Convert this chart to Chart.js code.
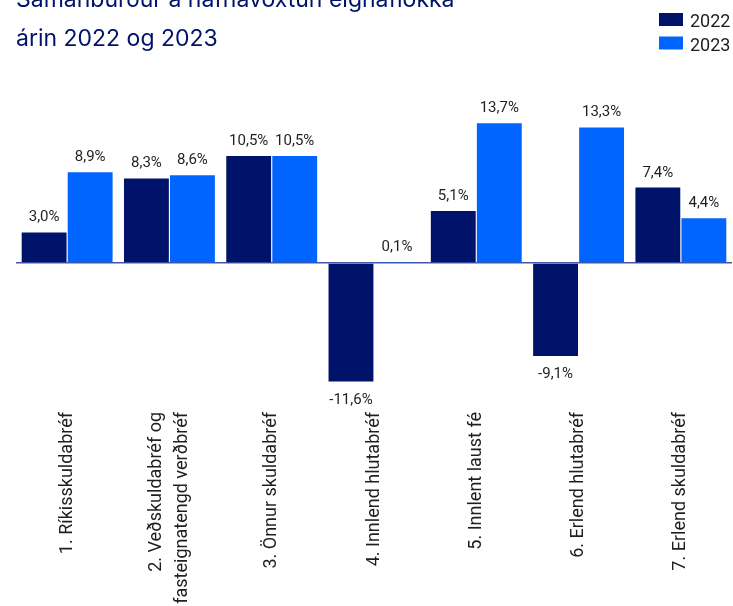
<!DOCTYPE html>
<html lang="is">
<head>
    <meta charset="UTF-8">
    <title>Samanburður á nafnávöxtun eignaflokka</title>
    <script src="https://cdn.jsdelivr.net/npm/chart.js"></script>
    <style>
        body {
            margin: 0;
            background: #fff;
        }
        .frame {
            position: relative;
            width: 733px;
            height: 606px;
            overflow: hidden;
        }
        .wrap {
            position: absolute;
            left: 0;
            top: -30px;
            width: 733px;
            height: 636px;
        }
    </style>
</head>
<body>
    <div class="frame">
        <div class="wrap"><canvas id="returnChart"></canvas></div>
    </div>

    <script>
        const categories = [
            '1. Ríkisskuldabréf',
            ['2. Veðskuldabréf og', 'fasteignatengd verðbréf'],
            '3. Önnur skuldabréf',
            '4. Innlend hlutabréf',
            '5. Innlent laust fé',
            '6. Erlend hlutabréf',
            '7. Erlend skuldabréf'
        ];
        const values2022 = [3.0, 8.3, 10.5, -11.6, 5.1, -9.1, 7.4];
        const values2023 = [8.9, 8.6, 10.5, 0.1, 13.7, 13.3, 4.4];
        const seriesNames = ['2022', '2023'];

        const navy = '#00136b';
        const blue = '#0064ff';

        function fmt(v) {
            return v.toFixed(1).replace('.', ',') + '%';
        }

        // value labels above / below each bar
        const valueLabels = {
            id: 'valueLabels',
            afterDatasetsDraw(chart) {
                const ctx = chart.ctx;
                ctx.save();
                ctx.font = '15px Roboto';
                ctx.fillStyle = '#1f1f1f';
                ctx.textAlign = 'center';
                ctx.textBaseline = 'alphabetic';
                chart.data.datasets.forEach((ds, i) => {
                    chart.getDatasetMeta(i).data.forEach((bar, j) => {
                        const v = ds.data[j];
                        const y = v >= 0 ? bar.y - 11 : bar.y + 22;
                        ctx.fillText(fmt(v), bar.x, y);
                    });
                });
                ctx.restore();
            }
        };

        // rotated labels with two lines: center the block on the tick
        const centerMultiline = {
            id: 'centerMultiline',
            beforeDraw(chart) {
                const scale = chart.scales.x;
                scale.getLabelItems(chart.chartArea).forEach(item => {
                    if (Array.isArray(item.label) && !item._centered) {
                        const lh = item.font.lineHeight;
                        item.options.translation[0] -= lh * (item.label.length - 1) / 2;
                        item._centered = true;
                    }
                });
            }
        };

        // small stacked legend in the top right corner
        const cornerLegend = {
            id: 'cornerLegend',
            afterDraw(chart) {
                const ctx = chart.ctx;
                ctx.save();
                ctx.font = '18px Roboto';
                ctx.textBaseline = 'alphabetic';
                chart.data.datasets.forEach((ds, i) => {
                    const top = 43 + i * 23.5;
                    ctx.fillStyle = ds.backgroundColor;
                    ctx.fillRect(659, top, 24, 13);
                    ctx.fillStyle = '#1f1f1f';
                    ctx.fillText(ds.label, 690, top + 14);
                });
                ctx.restore();
            }
        };

        new Chart(document.getElementById('returnChart'), {
            type: 'bar',
            data: {
                labels: categories,
                datasets: [
                    {
                        label: seriesNames[0],
                        data: values2022,
                        backgroundColor: navy,
                        categoryPercentage: 0.9,
                        barPercentage: 0.975
                    },
                    {
                        label: seriesNames[1],
                        data: values2023,
                        backgroundColor: blue,
                        categoryPercentage: 0.9,
                        barPercentage: 0.975
                    }
                ]
            },
            options: {
                responsive: true,
                maintainAspectRatio: false,
                animation: false,
                devicePixelRatio: 1,
                layout: {
                    padding: { left: 16, right: 1, top: 0, bottom: 0 }
                },
                plugins: {
                    legend: { display: false },
                    tooltip: { enabled: false },
                    title: {
                        display: true,
                        text: ['Samanburður á nafnávöxtun eignaflokka', 'árin 2022 og 2023'],
                        align: 'start',
                        color: navy,
                        font: { family: 'Inter', size: 23, weight: 'normal', lineHeight: 1.67 },
                        padding: { top: 11, bottom: 42 }
                    }
                },
                scales: {
                    x: {
                        grid: { display: false, drawTicks: false },
                        border: { display: false },
                        ticks: {
                            autoSkip: false,
                            minRotation: 90,
                            maxRotation: 90,
                            padding: 6,
                            color: '#1f1f1f',
                            font: { family: 'Roboto', size: 18, lineHeight: 1.45 }
                        },
                        afterFit(scale) {
                            scale.height = 200;
                        }
                    },
                    y: {
                        min: -14,
                        max: 16,
                        ticks: { display: false, stepSize: 2 },
                        border: { display: false },
                        grid: {
                            drawTicks: false,
                            lineWidth: 1.5,
                            color: c => c.tick && c.tick.value === 0 ? '#4656a6' : 'transparent'
                        },
                        afterFit(scale) {
                            scale.width = 0;
                        }
                    }
                }
            },
            plugins: [valueLabels, centerMultiline, cornerLegend]
        });
    </script>
</body>
</html>
